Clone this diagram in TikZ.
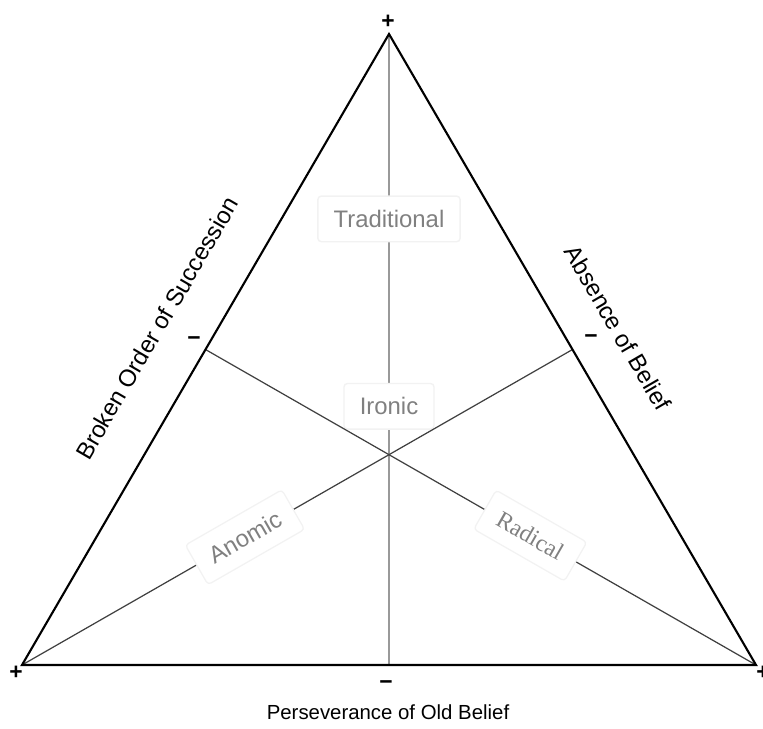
\documentclass[tikz,border=0pt]{standalone}
\usepackage{fontspec}
\setmainfont{Liberation Sans}
\newfontfamily\radicalfont{Liberation Serif}
\usetikzlibrary{calc}

\begin{document}
\begin{tikzpicture}[x=0.02cm,y=-0.02cm,
  side/.style={black,line width=1.2pt},
  median/.style={black!75,line width=0.7pt},
  axis/.style={black!40,line width=0.8pt},
  pole/.style={font=\fontsize{13.6}{16}\selectfont},
  type/.style={fill=white,draw=black!5,rounded corners=2pt,text=black!50,
    font=\fontsize{13.6}{16}\selectfont,inner xsep=9pt,inner ysep=8pt},
  sign/.style={font=\fontsize{13}{15}\selectfont\bfseries,inner sep=0pt}]
  \useasboundingbox (0,0) rectangle (763,728);

  \coordinate (top) at (389,34);
  \coordinate (bl) at (22,665);
  \coordinate (br) at (756,665);
  \coordinate (ml) at ($(top)!0.5!(bl)$);
  \coordinate (mr) at ($(top)!0.5!(br)$);
  \coordinate (mb) at ($(bl)!0.5!(br)$);

  \draw[axis] (top) -- node[type,pos=0.293] (trad) {Traditional}
    node[type,pos=0.59] (iron) {Ironic} (mb);
  \draw[median] (bl) -- node[type,sloped,pos=0.405] (anom) {Anomic} (mr);
  \draw[median] (br) -- node[type,sloped,pos=0.41] (radi) {\radicalfont Radical} (ml);
  \draw[side] (top) -- (bl) -- (br) -- cycle;

  % poles
  \node[pole,rotate=59.8] (succ) at (157,328) {Broken Order of Succession};
  \node[pole,rotate=-59.8] (abs) at (618,328) {Absence of Belief};
  \node[pole,font=\fontsize{11.6}{14}\selectfont] (pers) at (388,712) {Perseverance of Old Belief};

  % signs
  \node[sign] (ptop) at (388,22) {+};
  \node[sign] (pbl) at (16,673) {+};
  \node[sign] (pbr) at (763,673) {+};
  \node[sign] (ml-sign) at (194,341) {−};
  \node[sign] (mr-sign) at (591,339) {−};
  \node[sign] (mb-sign) at (386,685) {−};
\end{tikzpicture}
\end{document}
